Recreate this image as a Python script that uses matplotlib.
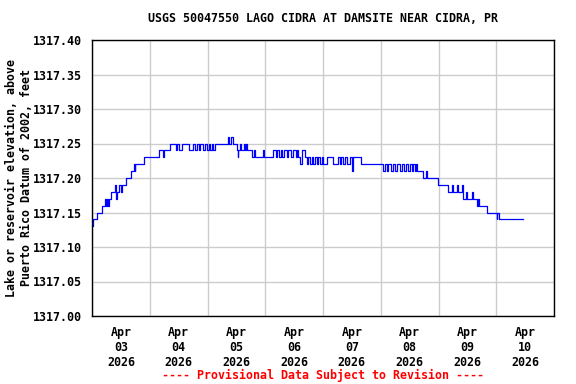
import datetime as dt
import matplotlib
matplotlib.use("Agg")
import matplotlib.pyplot as plt
import matplotlib.dates as mdates

# water level record, step changes: hours since 2026-04-03 00:00 and elevation (ft)
hours = [0.0, 0.25, 2.2, 4.3, 5.5, 6.0, 6.25, 6.5, 7.0, 8.0, 9.6, 10.0, 10.25, 11.3, 12.0,
         12.3, 14.1, 16.3, 17.6, 17.75, 18.0, 21.7, 27.8, 29.5, 29.75, 32.4, 34.8, 35.4,
         36.3, 37.4, 40.4, 41.8, 42.7, 43.5, 44.3, 44.9, 46.0, 46.8, 47.7, 48.5, 49.0, 49.9,
         50.4, 51.0, 56.5, 57.1, 57.9, 58.5, 60.4, 60.5, 60.75, 61.5, 62.0, 63.0, 63.5,
         64.0, 64.3, 66.6, 67.2, 67.7, 71.1, 71.4, 75.3, 76.3, 77.0, 77.8, 78.5, 79.1,
         79.9, 80.9, 81.6, 82.6, 83.4, 84.7, 85.1, 85.5, 86.4, 87.1, 88.5, 89.2, 89.9,
         90.6, 91.3, 92.0, 92.7, 93.4, 94.1, 94.8, 95.7, 96.1, 97.8, 100.0, 102.4, 103.1,
         103.4, 104.4, 105.1, 106.1, 107.2, 107.9, 108.2, 108.4, 108.6, 111.7, 120.8,
         121.8, 122.5, 123.1, 124.1, 125.0, 125.9, 126.6, 128.0, 128.7, 129.8, 130.4,
         131.5, 132.2, 132.9, 133.5, 134.2, 134.6, 134.9, 137.7, 138.7, 139.1, 143.7,
         148.1, 149.5, 150.2, 151.6, 152.3, 153.7, 154.3, 155.4, 155.9, 157.8, 158.2,
         159.9, 160.4, 160.7, 164.0, 168.2, 168.4, 169.3, 179.0]
elev = [1317.13, 1317.14, 1317.15, 1317.16, 1317.17, 1317.16, 1317.17, 1317.16, 1317.17,
        1317.18, 1317.19, 1317.17, 1317.18, 1317.19, 1317.18, 1317.19, 1317.20, 1317.21,
        1317.22, 1317.21, 1317.22, 1317.23, 1317.24, 1317.23, 1317.24, 1317.25, 1317.24,
        1317.25, 1317.24, 1317.25, 1317.24, 1317.25, 1317.24, 1317.25, 1317.24, 1317.25,
        1317.24, 1317.25, 1317.24, 1317.25, 1317.24, 1317.25, 1317.24, 1317.25, 1317.26,
        1317.25, 1317.26, 1317.25, 1317.24, 1317.23, 1317.24, 1317.25, 1317.24, 1317.25,
        1317.24, 1317.25, 1317.24, 1317.23, 1317.24, 1317.23, 1317.24, 1317.23, 1317.24,
        1317.23, 1317.24, 1317.23, 1317.24, 1317.23, 1317.24, 1317.23, 1317.24, 1317.23,
        1317.24, 1317.23, 1317.24, 1317.23, 1317.22, 1317.24, 1317.23, 1317.22, 1317.23,
        1317.22, 1317.23, 1317.22, 1317.23, 1317.22, 1317.23, 1317.22, 1317.23, 1317.22,
        1317.23, 1317.22, 1317.23, 1317.22, 1317.23, 1317.22, 1317.23, 1317.22, 1317.23,
        1317.22, 1317.21, 1317.22, 1317.23, 1317.22, 1317.21, 1317.22, 1317.21, 1317.22,
        1317.21, 1317.22, 1317.21, 1317.22, 1317.21, 1317.22, 1317.21, 1317.22, 1317.21,
        1317.22, 1317.21, 1317.22, 1317.21, 1317.22, 1317.21, 1317.20, 1317.21, 1317.20,
        1317.19, 1317.18, 1317.19, 1317.18, 1317.19, 1317.18, 1317.19, 1317.17, 1317.18,
        1317.17, 1317.18, 1317.17, 1317.16, 1317.17, 1317.16, 1317.15, 1317.14, 1317.15,
        1317.14, 1317.14]

start = dt.datetime(2026, 4, 3)
stop = dt.datetime(2026, 4, 11)
yticks = [1317.00, 1317.05, 1317.10, 1317.15, 1317.20, 1317.25, 1317.30, 1317.35, 1317.40]

title = "USGS 50047550 LAGO CIDRA AT DAMSITE NEAR CIDRA, PR"
ylabel = "Lake or reservoir elevation, above\nPuerto Rico Datum of 2002, feet"
footer = "---- Provisional Data Subject to Revision ----"

plt.rcParams['font.family'] = ['DejaVu Sans Mono']
plt.rcParams['font.weight'] = 'bold'
fs = 8.4

times = [start + dt.timedelta(hours=h) for h in hours]

fig = plt.figure(figsize=(5.76, 3.84), dpi=100)
ax = fig.add_axes([92 / 576, 1 - 316 / 384, 462 / 576, 276 / 384])

ax.step(times, elev, where='post', color='#0000ff', linewidth=0.9)

ax.set_xlim(start, stop)
ax.set_ylim(1317.00, 1317.40)
ax.set_yticks(yticks)
ax.set_yticklabels(["%.2f" % v for v in yticks], fontsize=fs, fontweight='bold')

# gridlines at midnight, date labels at noon
ax.xaxis.set_major_locator(mdates.DayLocator())
ax.xaxis.set_major_formatter(plt.NullFormatter())
ax.xaxis.set_minor_locator(mdates.HourLocator(byhour=[12]))
ax.xaxis.set_minor_formatter(mdates.DateFormatter("%b\n%d\n%Y"))
for lbl in ax.xaxis.get_minorticklabels():
    lbl.set_fontsize(fs)
    lbl.set_fontweight('bold')

ax.tick_params(axis='both', which='both', length=0)
ax.tick_params(axis='y', pad=7)
ax.tick_params(axis='x', which='minor', pad=7)
ax.grid(True, which='major', color='#cccccc', linewidth=1.0)
ax.set_axisbelow(True)
for s in ax.spines.values():
    s.set_color('black')
    s.set_linewidth(1.0)

fig.text(323 / 576, 1 - 19 / 384, title, ha='center', va='center', fontsize=fs, fontweight='bold')
fig.text(19 / 576, 1 - 178 / 384, ylabel, ha='center', va='center', rotation=90,
         fontsize=fs, fontweight='bold', linespacing=1.15)
fig.text(323 / 576, 1 - 375 / 384, footer, ha='center', va='center', fontsize=fs,
         fontweight='bold', color='#ff0000')

fig.savefig("out.png", dpi=100)
